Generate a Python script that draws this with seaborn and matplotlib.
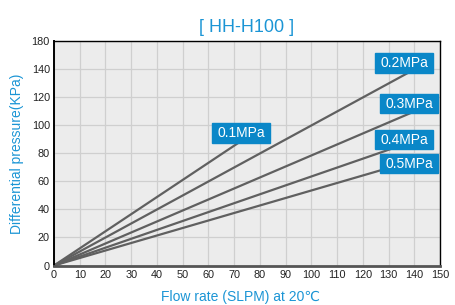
import matplotlib
matplotlib.use('Agg')
from matplotlib import pyplot as plt
from matplotlib.patches import Rectangle
import pandas as pd
import seaborn as sns

## Data ##

pressures = ['0.1MPa', '0.2MPa', '0.3MPa', '0.4MPa', '0.5MPa']
flow_end = [72, 140, 140, 140, 140]      # SLPM at the end of each line
dp_end = [88, 140, 110, 89, 75]          # KPa at the end of each line
x_ticks = list(range(0, 151, 10))
y_ticks = [0, 20, 40, 60, 80, 100, 120, 140, 160]
y_tick_labels = ['0', '20', '40', '60', '80', '100', '120', '140', '180']  # the original labels the top line 180

# where the blue boxes sit (data coords)
label_x = [72.7, 136, 138, 136, 138]
label_y = [94.6, 144.6, 115.7, 89.9, 72.7]

# each line starts from the origin
rows = []
for p, fx, dy in zip(pressures, flow_end, dp_end):
    rows.append({'flow': 0, 'dp': 0, 'pressure': p})
    rows.append({'flow': fx, 'dp': dy, 'pressure': p})
df = pd.DataFrame(rows)

## Plot ##

BLUE_TXT = '#1b95d5'
BLUE_BOX = '#0a87c8'

sns.set_style('whitegrid', {'axes.facecolor': '#ececec', 'grid.color': '#cfcfcf',
                            'axes.edgecolor': 'black'})
plt.rcParams['font.family'] = ['Liberation Sans', 'DejaVu Sans']

fig = plt.figure(figsize=(4.55, 3.05), dpi=100)
ax = fig.add_axes([0.1187, 0.1295, 0.8483, 0.7345])

sns.lineplot(data=df, x='flow', y='dp', hue='pressure', palette=['#606060'] * 5,
             legend=False, linewidth=1.6, ax=ax)

ax.set_xlim(0, 150)
ax.set_ylim(0, 160)
ax.set_xticks(x_ticks)
ax.set_yticks(y_ticks)
ax.set_yticklabels(y_tick_labels)
ax.grid(True, color='#cfcfcf', linewidth=0.9)
ax.tick_params(direction='in', color=BLUE_TXT, length=5, width=1,
               labelsize=7.8, labelcolor='#222222', pad=3)
for side in ['top', 'right', 'left']:
    ax.spines[side].set_color('black')
    ax.spines[side].set_linewidth(1.0)
ax.spines['left'].set_linewidth(1.4)
ax.spines['bottom'].set_color('#555555')
ax.spines['bottom'].set_linewidth(2.0)

# blue boxes with white text
bw, bh = 22.5, 13.9
for p, lx, ly in zip(pressures, label_x, label_y):
    ax.add_patch(Rectangle((lx - bw / 2, ly - bh / 2), bw, bh, color=BLUE_BOX, zorder=5))
    ax.text(lx, ly, p, color='white', fontsize=10, ha='center', va='center', zorder=6)

ax.set_title('[ HH-H100 ]', color=BLUE_TXT, fontsize=13, pad=7)
ax.set_xlabel('Flow rate (SLPM) at 20\u2103', color=BLUE_TXT, fontsize=10)
ax.set_ylabel('Differential pressure(KPa)', color=BLUE_TXT, fontsize=10)
ax.xaxis.set_label_coords(0.482, -0.11)
ax.yaxis.set_label_coords(-0.078, 0.5)

fig.savefig('out.png', dpi=100)
